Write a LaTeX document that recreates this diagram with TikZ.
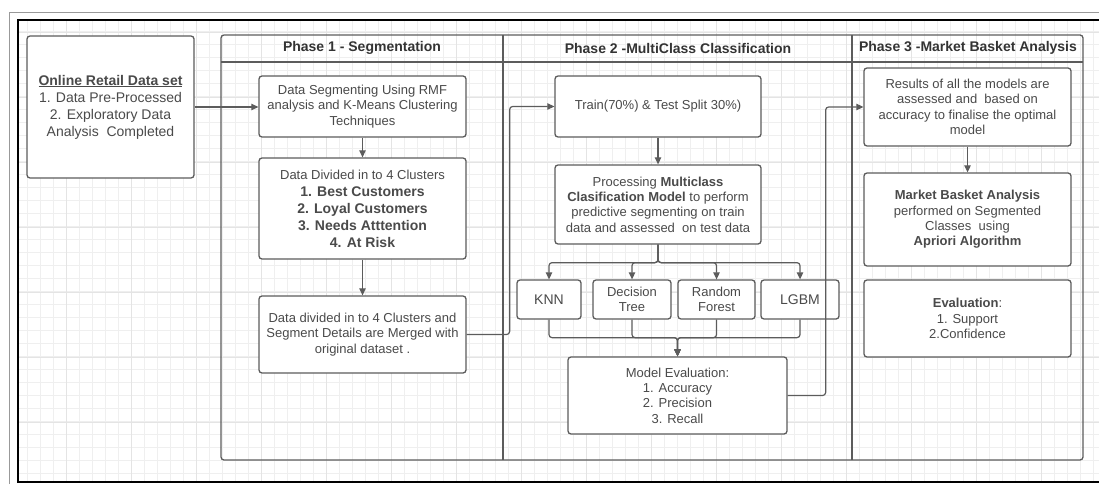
\documentclass[tikz,border=0pt]{standalone}
\usepackage{fontspec}
\setmainfont{Liberation Sans}
\usetikzlibrary{arrows.meta}
\definecolor{bx}{HTML}{5C5C5C}
\definecolor{tx}{HTML}{4A4A4A}
\definecolor{dk}{HTML}{333333}
\definecolor{g1}{HTML}{EFEFEF}
\definecolor{g2}{HTML}{E4E4E4}

\begin{document}
\begin{tikzpicture}[x=1pt,y=-1pt,
  box/.style={draw=bx, line width=1.3pt, rounded corners=3pt, fill=white, align=center,
    text=tx, font=\fontsize{13}{15.4}\selectfont, inner sep=1pt},
  big/.style={font=\fontsize{14}{17}\selectfont},
  conn/.style={draw=bx, line width=1.2pt, rounded corners=3pt, -{Triangle[length=7pt,width=6.5pt]}},
  lane/.style={draw=bx, line width=1.3pt},
  ttl/.style={text=dk, font=\bfseries\fontsize{14}{17}\selectfont}]
\useasboundingbox (0,0) rectangle (1099,484);
\begin{scope}
\clip (18,20) rectangle (1099,482);
\foreach \x in {1,14,...,1099} \draw[g1, line width=0.8pt] (\x,20) -- (\x,482);
\foreach \y in {5,18,...,484} \draw[g1, line width=0.8pt] (18,\y) -- (1099,\y);
\foreach \x in {66,131,...,1099} \draw[g2, line width=0.9pt] (\x,20) -- (\x,482);
\foreach \y in {32,97,...,484} \draw[g2, line width=0.9pt] (18,\y) -- (1099,\y);
\end{scope}
\draw[gray!80, line width=0.9pt] (9,484) -- (9,12) -- (1099,12);
\draw[black, line width=1.3pt] (1099,20) -- (18,20) -- (18,482) -- (1099,482);

\draw[lane, rounded corners=3pt] (221,35) rectangle (1083,460);
\draw[lane] (221,62) -- (1083,62);
\draw[lane] (503,35) -- (503,460);
\draw[lane] (852,35) -- (852,460);
\node[ttl] (t1) at (362,48) {Phase 1 - Segmentation};
\node[ttl] (t2) at (678,48) {Phase 2 -MultiClass Classification};
\node[ttl] (t3) at (968,48) {Phase 3 -Market Basket Analysis};

\node[box, big, minimum width=167pt, minimum height=142pt] (src) at (110.5,107)
  {\underline{\textbf{Online Retail Data set}}\\ 1. Data Pre-Processed\\ 2. Exploratory Data\\ Analysis\ \ Completed};

\node[box, minimum width=207pt, minimum height=61pt] (seg) at (362.5,106.5)
  {Data Segmenting Using RMF\\ analysis and K-Means Clustering\\ Techniques};
\node[box, big, minimum width=207pt, minimum height=101pt] (clus) at (362.5,208.5)
  {{\fontsize{13}{15}\selectfont Data Divided in to 4 Clusters}\\ \textbf{1. Best Customers}\\
   \textbf{2. Loyal Customers}\\ \textbf{3. Needs Atttention}\\ \textbf{4. At Risk}};
\node[box, minimum width=207pt, minimum height=77pt] (merge) at (362.5,334.5)
  {Data divided in to 4 Clusters and\\ Segment Details are Merged with\\ original dataset .};

\node[box, minimum width=206pt, minimum height=61pt] (split) at (658,106.5)
  {Train(70\%) \& Test Split 30\%)};
\node[box, minimum width=206pt, minimum height=79pt] (proc) at (658,204.5)
  {Processing \textbf{Multiclass}\\ \textbf{Clasification Model} to perform\\
   predictive segmenting on train\\ data and assessed\ \ on test data};
\node[box, big, minimum width=64pt, minimum height=39pt] (knn) at (549,299.5) {KNN};
\node[box, minimum width=78pt, minimum height=39pt] (dtree) at (632,299.5) {Decision\\ Tree};
\node[box, minimum width=77pt, minimum height=39pt] (rforest) at (716.5,299.5) {Random\\ Forest};
\node[box, big, minimum width=78pt, minimum height=39pt] (lgbm) at (800,299.5) {LGBM};
\node[box, minimum width=219pt, minimum height=77pt] (meval) at (677.5,395.5)
  {Model Evaluation:\\ 1. Accuracy\\ 2. Precision\\ 3. Recall};

\node[box, minimum width=207pt, minimum height=78pt] (res) at (967.5,107)
  {Results of all the models are\\ assessed and\ \ based on\\ accuracy to finalise the optimal\\ model};
\node[box, minimum width=207pt, minimum height=93pt] (mba) at (967.5,219.5)
  {\textbf{Market Basket Analysis}\\ performed on Segmented\\ Classes\ \ using\\ \textbf{Apriori Algorithm}};
\node[box, minimum width=207pt, minimum height=77pt] (aeval) at (967.5,318.5)
  {\textbf{Evaluation}:\\ 1. Support\\ 2.Confidence};

\draw[conn] (src.east) -- (src.east -| seg.west);
\draw[conn] (seg) -- (clus);
\draw[conn] (clus) -- (merge);
\draw[conn] (merge.east) -- ++(43,0) |- (split.west);
\draw[conn] (split) -- (proc);
\foreach \m in {knn,dtree,rforest,lgbm}
  \draw[conn] (proc.south) -- ++(0,18) -| (\m.north);
\foreach \m in {knn,dtree,rforest,lgbm}
  \draw[conn] (\m.south) -- ++(0,18) -| (meval.north);
\draw[conn] (meval.east) -- ++(38,0) |- (res.west);
\draw[conn] (res) -- (mba);
\end{tikzpicture}
\end{document}
